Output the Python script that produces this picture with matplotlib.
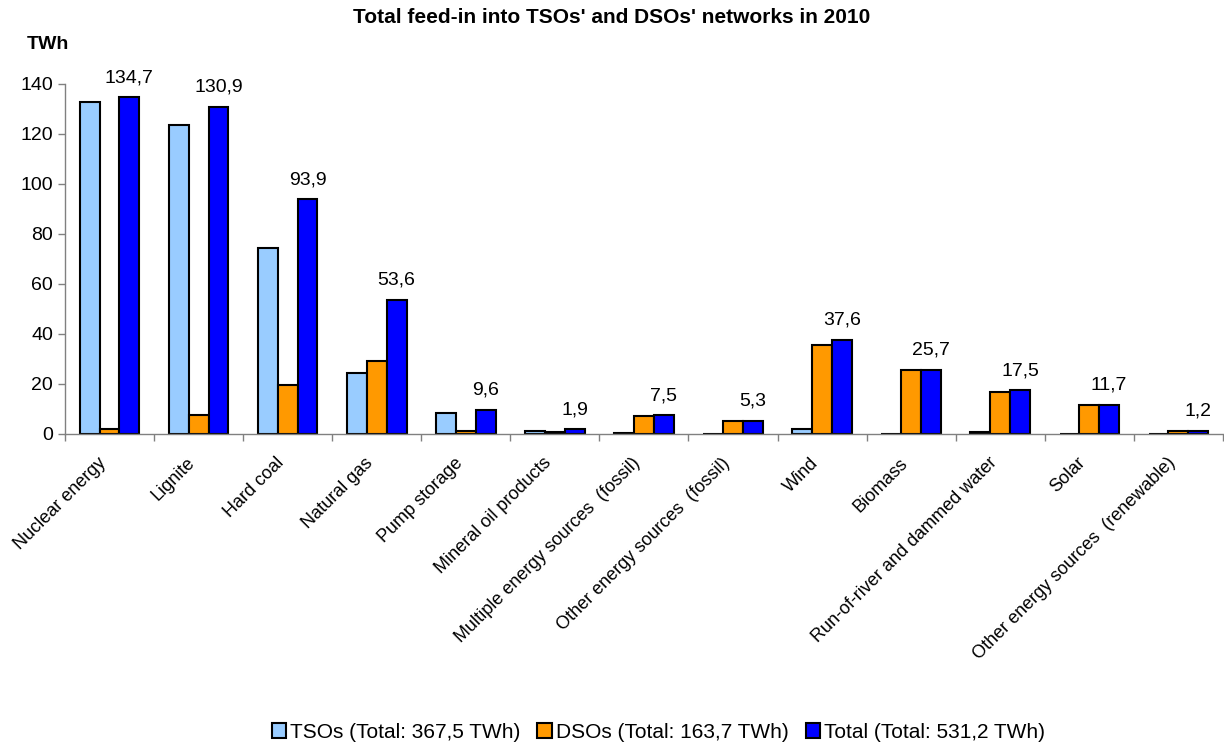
import numpy as np
import matplotlib.pyplot as plt
from matplotlib.transforms import ScaledTranslation

plt.rcParams['font.family'] = ['Liberation Sans', 'DejaVu Sans']

categories = ['Nuclear energy', 'Lignite', 'Hard coal', 'Natural gas', 'Pump storage',
              'Mineral oil products', 'Multiple energy sources  (fossil)',
              'Other energy sources  (fossil)', 'Wind', 'Biomass',
              'Run-of-river and dammed water', 'Solar', 'Other energy sources  (renewable)']
tso = [132.8, 123.4, 74.3, 24.3, 8.3, 1.2, 0.4, 0.0, 1.9, 0.1, 0.7, 0.0, 0.0]
dso = [1.9, 7.5, 19.6, 29.3, 1.3, 0.7, 7.1, 5.3, 35.7, 25.6, 16.8, 11.7, 1.2]
total = [134.7, 130.9, 93.9, 53.6, 9.6, 1.9, 7.5, 5.3, 37.6, 25.7, 17.5, 11.7, 1.2]
total_labels = ['134,7', '130,9', '93,9', '53,6', '9,6', '1,9', '7,5', '5,3',
                '37,6', '25,7', '17,5', '11,7', '1,2']
legend_labels = ['TSOs (Total: 367,5 TWh)', 'DSOs (Total: 163,7 TWh)', 'Total (Total: 531,2 TWh)']

fig = plt.figure(figsize=(12.24, 7.44), dpi=100)
ax = fig.add_axes([0.0531, 0.4167, 0.946, 0.4704])

x = np.arange(len(categories))
w = 0.223
kw = dict(edgecolor='black', linewidth=1.5)
b1 = ax.bar(x - w, tso, w, color='#99CCFF', label=legend_labels[0], **kw)
b2 = ax.bar(x, dso, w, color='#FF9900', label=legend_labels[1], **kw)
b3 = ax.bar(x + w, total, w, color='#0000FF', label=legend_labels[2], **kw)

# value of the total above each blue bar
for xi, v, s in zip(x, total, total_labels):
    ax.annotate(s, (xi + w, v), xytext=(0, 8), textcoords='offset points',
                ha='center', va='bottom', fontsize=14, annotation_clip=False)

ax.set_xlim(-0.5, len(categories) - 0.5)
ax.set_ylim(0, 140)
ax.set_yticks(range(0, 141, 20))
ax.tick_params(axis='y', labelsize=14, length=5, width=1, direction='out', color='#808080')

ax.set_xticks(x)
ax.set_xticklabels(categories, rotation=45, ha='right', rotation_mode='anchor', fontsize=13)
ax.tick_params(axis='x', which='major', length=0, pad=9)
shift = ScaledTranslation(-0.12, -0.08, fig.dpi_scale_trans)
for lbl in ax.get_xticklabels():
    lbl.set_transform(lbl.get_transform() + shift)
# tick marks sit between the groups
ax.set_xticks(np.arange(-0.5, len(categories), 1), minor=True)
ax.tick_params(axis='x', which='minor', length=5, width=1, direction='out', color='#808080')

for side in ['top', 'right']:
    ax.spines[side].set_visible(False)
for side in ['left', 'bottom']:
    ax.spines[side].set_linewidth(1)
    ax.spines[side].set_color('#808080')

fig.text(0.5, 0.977, "Total feed-in into TSOs' and DSOs' networks in 2010",
         ha='center', va='center', fontsize=15, fontweight='bold')
fig.text(0.022, 0.94, 'TWh', ha='left', va='center', fontsize=14, fontweight='bold')

fig.legend(handles=[b1, b2, b3], loc='center', bbox_to_anchor=(0.538, 0.016),
           ncol=3, frameon=False, fontsize=15, handlelength=0.7, handleheight=0.7,
           handletextpad=0.2, columnspacing=0.8)

fig.savefig('out.png', dpi=100)
